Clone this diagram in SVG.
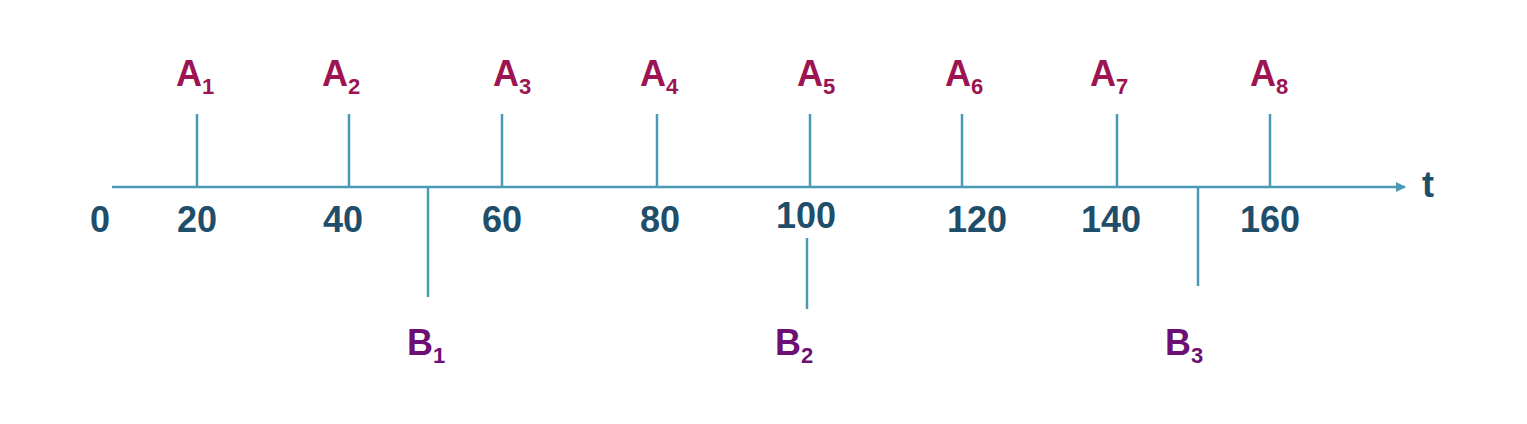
<svg xmlns="http://www.w3.org/2000/svg" width="1527" height="424" viewBox="0 0 1527 424">
<style>
.ln{stroke:#4a9ab5;stroke-width:2.5;fill:none}
.a{font-family:"Liberation Sans",Arial,sans-serif;font-weight:bold;font-size:36px;fill:#9c1452}
.b{font-family:"Liberation Sans",Arial,sans-serif;font-weight:bold;font-size:36px;fill:#6e1073}
.n{font-family:"Liberation Sans",Arial,sans-serif;font-weight:bold;font-size:36px;fill:#1f4e6b;text-anchor:middle}
.s{font-size:22px}
</style>
<defs>
<marker id="arr" markerWidth="10" markerHeight="10" refX="9" refY="5" orient="auto" markerUnits="userSpaceOnUse">
<path d="M0,0 L10,5 L0,10 z" fill="#4a9ab5"/>
</marker>
</defs>
<g id="connectors">
<line class="ln" x1="112" y1="187" x2="1405" y2="187" marker-end="url(#arr)"/>
<line class="ln" x1="197" y1="114" x2="197" y2="187"/>
<line class="ln" x1="349" y1="114" x2="349" y2="187"/>
<line class="ln" x1="502" y1="114" x2="502" y2="187"/>
<line class="ln" x1="657" y1="114" x2="657" y2="187"/>
<line class="ln" x1="810" y1="114" x2="810" y2="187"/>
<line class="ln" x1="962" y1="114" x2="962" y2="187"/>
<line class="ln" x1="1117" y1="114" x2="1117" y2="187"/>
<line class="ln" x1="1270" y1="114" x2="1270" y2="187"/>
<line class="ln" x1="428" y1="187" x2="428" y2="297"/>
<line class="ln" x1="807" y1="238" x2="807" y2="309"/>
<line class="ln" x1="1198" y1="187" x2="1198" y2="286"/>
</g>
<g id="A1"><text class="a" x="176" y="86">A<tspan class="s" dy="8">1</tspan></text></g>
<g id="A2"><text class="a" x="322" y="86">A<tspan class="s" dy="8">2</tspan></text></g>
<g id="A3"><text class="a" x="493" y="86">A<tspan class="s" dy="8">3</tspan></text></g>
<g id="A4"><text class="a" x="640" y="86">A<tspan class="s" dy="8">4</tspan></text></g>
<g id="A5"><text class="a" x="797" y="86">A<tspan class="s" dy="8">5</tspan></text></g>
<g id="A6"><text class="a" x="945" y="86">A<tspan class="s" dy="8">6</tspan></text></g>
<g id="A7"><text class="a" x="1090" y="86">A<tspan class="s" dy="8">7</tspan></text></g>
<g id="A8"><text class="a" x="1250" y="86">A<tspan class="s" dy="8">8</tspan></text></g>
<g id="B1"><text class="b" x="407" y="355">B<tspan class="s" dy="8">1</tspan></text></g>
<g id="B2"><text class="b" x="775" y="355">B<tspan class="s" dy="8">2</tspan></text></g>
<g id="B3"><text class="b" x="1165" y="355">B<tspan class="s" dy="8">3</tspan></text></g>
<g id="labels">
<text class="n" x="100" y="232">0</text>
<text class="n" x="197" y="232">20</text>
<text class="n" x="343" y="232">40</text>
<text class="n" x="502" y="232">60</text>
<text class="n" x="660" y="232">80</text>
<text class="n" x="806" y="228">100</text>
<text class="n" x="977" y="232">120</text>
<text class="n" x="1111" y="232">140</text>
<text class="n" x="1270" y="232">160</text>
<text class="n" x="1428" y="197">t</text>
</g>
</svg>
